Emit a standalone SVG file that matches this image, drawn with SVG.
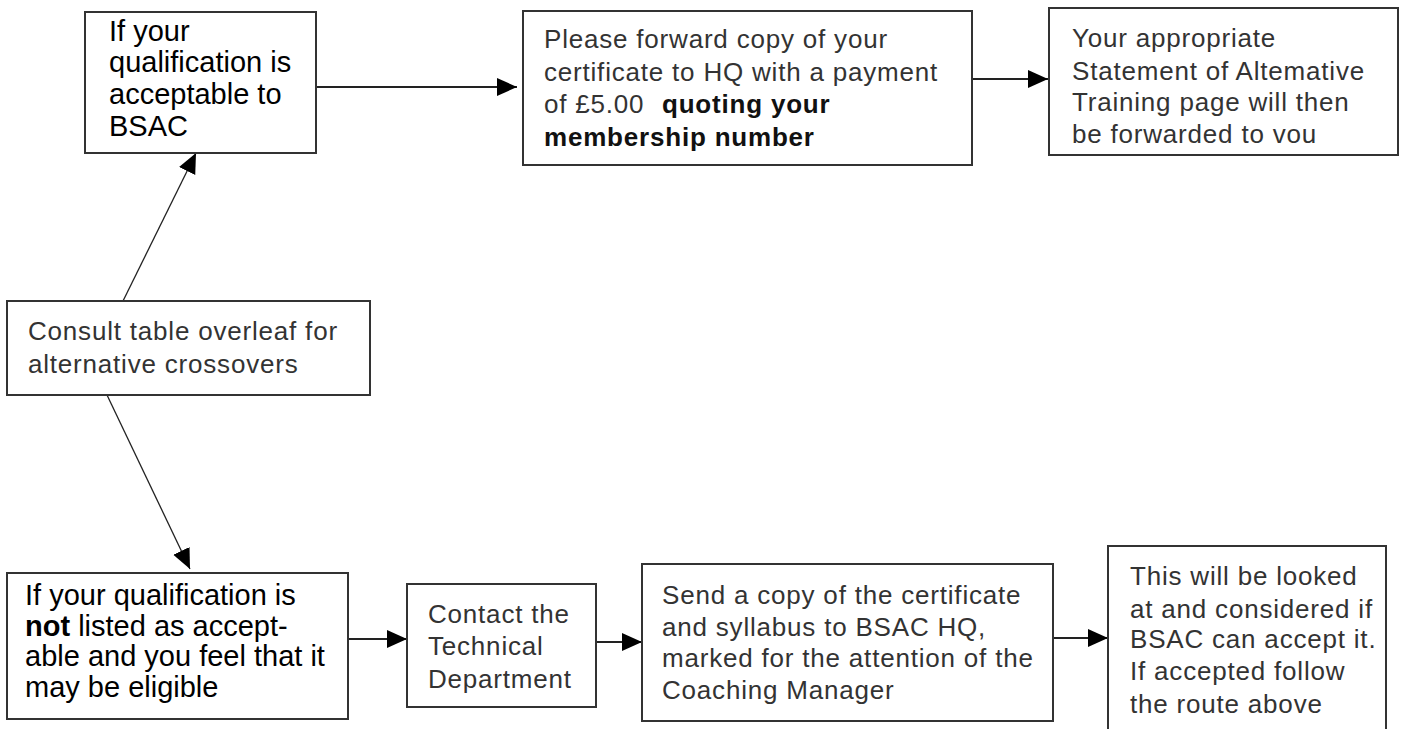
<svg xmlns="http://www.w3.org/2000/svg" width="1401" height="729" viewBox="0 0 1401 729">
<style>
.box{fill:#fff;stroke:#333;stroke-width:2}
.t{font-family:"Liberation Sans",Arial,sans-serif;font-size:26px;letter-spacing:0.8px;fill:#333}
.tb{font-family:"Liberation Sans",Arial,sans-serif;font-size:29px;fill:#000}
.b{font-weight:bold;fill:#111}
.c{stroke:#222;stroke-width:2;fill:none}
.d{stroke:#222;stroke-width:1.3;fill:none}
</style>
<defs>
<marker id="ah" markerUnits="userSpaceOnUse" markerWidth="22" markerHeight="20" refX="20" refY="9" orient="auto">
<path d="M0,0 L20,9 L0,18 z" fill="#000"/>
</marker>
</defs>
<rect width="1401" height="729" fill="#fff"/>
<g id="connectors">
<line class="c" x1="316" y1="87" x2="517" y2="87" marker-end="url(#ah)"/>
<line class="c" x1="972" y1="79" x2="1048" y2="79" marker-end="url(#ah)"/>
<line class="d" x1="123" y1="301" x2="196" y2="153" marker-end="url(#ah)"/>
<line class="d" x1="107" y1="395" x2="190" y2="569" marker-end="url(#ah)"/>
<line class="c" x1="348" y1="639" x2="407" y2="639" marker-end="url(#ah)"/>
<line class="c" x1="596" y1="642" x2="642" y2="642" marker-end="url(#ah)"/>
<line class="c" x1="1053" y1="638" x2="1108" y2="638" marker-end="url(#ah)"/>
</g>
<g id="acceptable">
<rect class="box" x="85" y="12" width="231" height="141"/>
<text class="tb" font-size="28"><tspan x="109" y="41">If your</tspan><tspan x="109" y="72">qualification is</tspan><tspan x="109" y="104">acceptable to</tspan><tspan x="109" y="136">BSAC</tspan></text>
</g>
<g id="forward">
<rect class="box" x="523" y="11" width="449" height="154"/>
<text class="t"><tspan x="544" y="48">Please forward copy of your</tspan><tspan x="544" y="81">certificate to HQ with a payment</tspan><tspan x="544" y="113">of £5.00</tspan><tspan x="662" y="113" class="b">quoting your</tspan><tspan x="544" y="146" class="b">membership number</tspan></text>
</g>
<g id="statement">
<rect class="box" x="1049" y="8" width="349" height="147"/>
<text class="t"><tspan x="1072" y="47">Your appropriate</tspan><tspan x="1072" y="80">Statement of Altemative</tspan><tspan x="1072" y="111">Training page will then</tspan><tspan x="1072" y="143">be forwarded to vou</tspan></text>
</g>
<g id="consult">
<rect class="box" x="7" y="301" width="363" height="94"/>
<text class="t"><tspan x="28" y="340">Consult table overleaf for</tspan><tspan x="28" y="373">alternative crossovers</tspan></text>
</g>
<g id="not-listed">
<rect class="box" x="7" y="573" width="341" height="146"/>
<text class="tb"><tspan x="25" y="605">If your qualification is</tspan><tspan x="25" y="636" font-weight="bold">not</tspan><tspan> listed as accept-</tspan><tspan x="25" y="666">able and you feel that it</tspan><tspan x="25" y="697">may be eligible</tspan></text>
</g>
<g id="contact">
<rect class="box" x="407" y="584" width="189" height="123"/>
<text class="t"><tspan x="428" y="623">Contact the</tspan><tspan x="428" y="655">Technical</tspan><tspan x="428" y="688">Department</tspan></text>
</g>
<g id="send">
<rect class="box" x="642" y="564" width="411" height="157"/>
<text class="t"><tspan x="662" y="604">Send a copy of the certificate</tspan><tspan x="662" y="636">and syllabus to BSAC HQ,</tspan><tspan x="662" y="667">marked for the attention of the</tspan><tspan x="662" y="699">Coaching Manager</tspan></text>
</g>
<g id="considered">
<rect class="box" x="1108" y="546" width="278" height="200"/>
<text class="t"><tspan x="1130" y="585">This will be looked</tspan><tspan x="1130" y="618">at and considered if</tspan><tspan x="1130" y="648">BSAC can accept it.</tspan><tspan x="1130" y="680">If accepted follow</tspan><tspan x="1130" y="713">the route above</tspan></text>
</g>
</svg>
